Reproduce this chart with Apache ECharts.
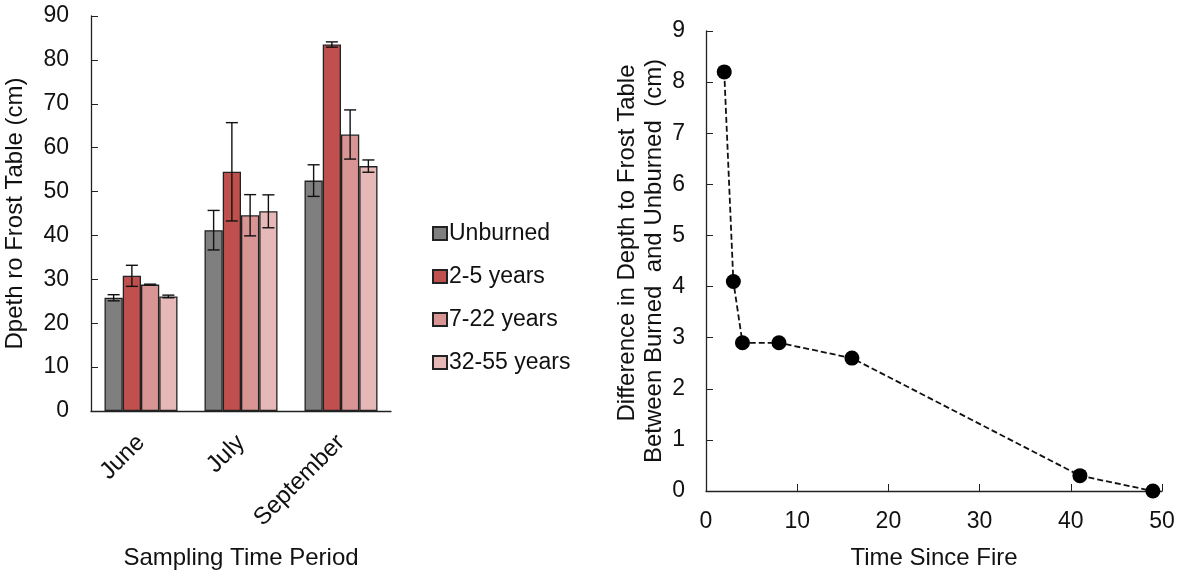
<!DOCTYPE html>
<html>
<head>
<meta charset="utf-8">
<script src="https://cdn.jsdelivr.net/npm/echarts@6/dist/echarts.min.js"></script>
<style>html,body{margin:0;padding:0;background:#fff}#c{width:1181px;height:575px}</style>
</head>
<body>
<div id="c"></div>
<script>
const categories = ['June', 'July', 'September'];
const seriesNames = ['Unburned', '2-5 years', '7-22 years', '32-55 years'];
const unburned = [25.8, 41.2, 52.5];
const yrs2to5 = [30.8, 54.5, 83.5];
const yrs7to22 = [28.8, 44.6, 63.0];
const yrs32to55 = [26.1, 45.5, 55.8];
const errUnburned = [0.7, 4.5, 3.6];
const err2to5 = [2.4, 11.2, 0.6];
const err7to22 = [0.1, 4.7, 5.6];
const err32to55 = [0.3, 3.75, 1.4];
const colors = ['#7f7f7f', '#c0504d', '#d99594', '#e6b9b8'];
const timeSinceFire = [2, 3, 4, 8, 16, 41, 49];
const depthDifference = [8.2, 4.1, 2.9, 2.9, 2.6, 0.3, 0.0];

const barValues = [unburned, yrs2to5, yrs7to22, yrs32to55];
const barErrors = [errUnburned, err2to5, err7to22, err32to55];
const FONT = 'Liberation Sans, Arial, sans-serif';
const GAP = 0.27;

function errRender(idx) {
  return function (params, api) {
    const x = api.value(0), v = api.value(1), e = api.value(2);
    const band = api.size([1, 0])[0];
    const bw = band * (1 - GAP) / 4;
    const cx = api.coord([x, v])[0] + (idx - 1.5) * bw;
    const top = api.coord([x, v + e])[1];
    const bot = api.coord([x, v - e])[1];
    const cap = bw * 0.33;
    const st = { stroke: '#111', lineWidth: 1.4 };
    return {
      type: 'group',
      children: [
        { type: 'line', shape: { x1: cx, y1: top, x2: cx, y2: bot }, style: st },
        { type: 'line', shape: { x1: cx - cap, y1: top, x2: cx + cap, y2: top }, style: st },
        { type: 'line', shape: { x1: cx - cap, y1: bot, x2: cx + cap, y2: bot }, style: st }
      ]
    };
  };
}

const series = [];
seriesNames.forEach((n, i) => {
  series.push({
    name: n, type: 'bar', xAxisIndex: 0, yAxisIndex: 0,
    data: barValues[i], barGap: 0, barCategoryGap: (GAP * 100) + '%',
    itemStyle: { color: colors[i], borderColor: '#222', borderWidth: 1.3 },
    emphasis: { disabled: true }
  });
});
seriesNames.forEach((n, i) => {
  series.push({
    type: 'custom', xAxisIndex: 0, yAxisIndex: 0, z: 5,
    renderItem: errRender(i),
    data: categories.map((c, k) => [k, barValues[i][k], barErrors[i][k]])
  });
});
series.push({
  type: 'line', xAxisIndex: 1, yAxisIndex: 1,
  data: timeSinceFire.map((t, k) => [t, depthDifference[k]]),
  symbol: 'circle', symbolSize: 15,
  itemStyle: { color: '#000' },
  lineStyle: { color: '#111', width: 1.8, type: [6, 3] },
  emphasis: { disabled: true }
});

const axisTxt = { color: '#111', fontSize: 23, fontFamily: FONT };
const nameTxt = { color: '#111', fontSize: 24, fontFamily: FONT };

const option = {
  animation: false,
  backgroundColor: '#fff',
  textStyle: { fontFamily: FONT },
  legend: {
    data: seriesNames, orient: 'vertical', left: 427, top: 217,
    itemWidth: 14, itemHeight: 13, itemGap: 20,
    textStyle: { fontSize: 23, color: '#111', fontFamily: FONT, padding: [0, 0, 0, -3] },
    icon: 'rect'
  },
  grid: [
    { left: 91, top: 16, width: 300, height: 397 },
    { left: 706, top: 31, width: 456, height: 462 }
  ],
  xAxis: [
    {
      gridIndex: 0, type: 'category', data: categories,
      name: 'Sampling Time Period', nameLocation: 'middle', nameGap: 135, nameTextStyle: nameTxt,
      axisLine: { lineStyle: { color: '#222', width: 1.3 } },
      axisTick: { inside: true, length: 6, lineStyle: { color: '#222' } },
      axisLabel: Object.assign({ rotate: 45, margin: 28 }, axisTxt, { fontSize: 24 })
    },
    {
      gridIndex: 1, type: 'value', min: 0, max: 50, interval: 10,
      name: 'Time Since Fire', nameLocation: 'middle', nameGap: 55, nameTextStyle: nameTxt,
      splitLine: { show: false },
      axisLine: { onZero: false, lineStyle: { color: '#222', width: 1.3 } },
      axisTick: { inside: true, length: 7, lineStyle: { color: '#222' } },
      axisLabel: Object.assign({ margin: 19 }, axisTxt)
    }
  ],
  yAxis: [
    {
      gridIndex: 0, type: 'value', min: 0, max: 90, interval: 10,
      name: 'Dpeth ro Frost Table (cm)', nameLocation: 'middle', nameGap: 64,
      nameTextStyle: nameTxt,
      splitLine: { show: false },
      axisLine: { show: true, lineStyle: { color: '#222', width: 1.3 } },
      axisTick: { show: true, inside: true, length: 7, lineStyle: { color: '#222' } },
      axisLabel: Object.assign({ margin: 22 }, axisTxt)
    },
    {
      gridIndex: 1, type: 'value', min: 0, max: 9, interval: 1,
      name: '{a|Difference in Depth to Frost Table}\n{b|Between Burned  and Unburned  (cm)}',
      nameLocation: 'middle', nameGap: 27,
      nameTextStyle: Object.assign({}, nameTxt, {
        lineHeight: 27,
        rich: {
          a: { fontSize: 24, fontFamily: FONT, color: '#111', lineHeight: 27, padding: [0, 0, 0, 36] },
          b: { fontSize: 24, fontFamily: FONT, color: '#111', lineHeight: 27 }
        }
      }),
      splitLine: { show: false },
      axisLine: { show: true, lineStyle: { color: '#222', width: 1.3 } },
      axisTick: { show: true, inside: true, length: 7, lineStyle: { color: '#222' } },
      axisLabel: Object.assign({ margin: 21 }, axisTxt)
    }
  ],
  series: series
};
echarts.init(document.getElementById('c')).setOption(option);
</script>
</body>
</html>
